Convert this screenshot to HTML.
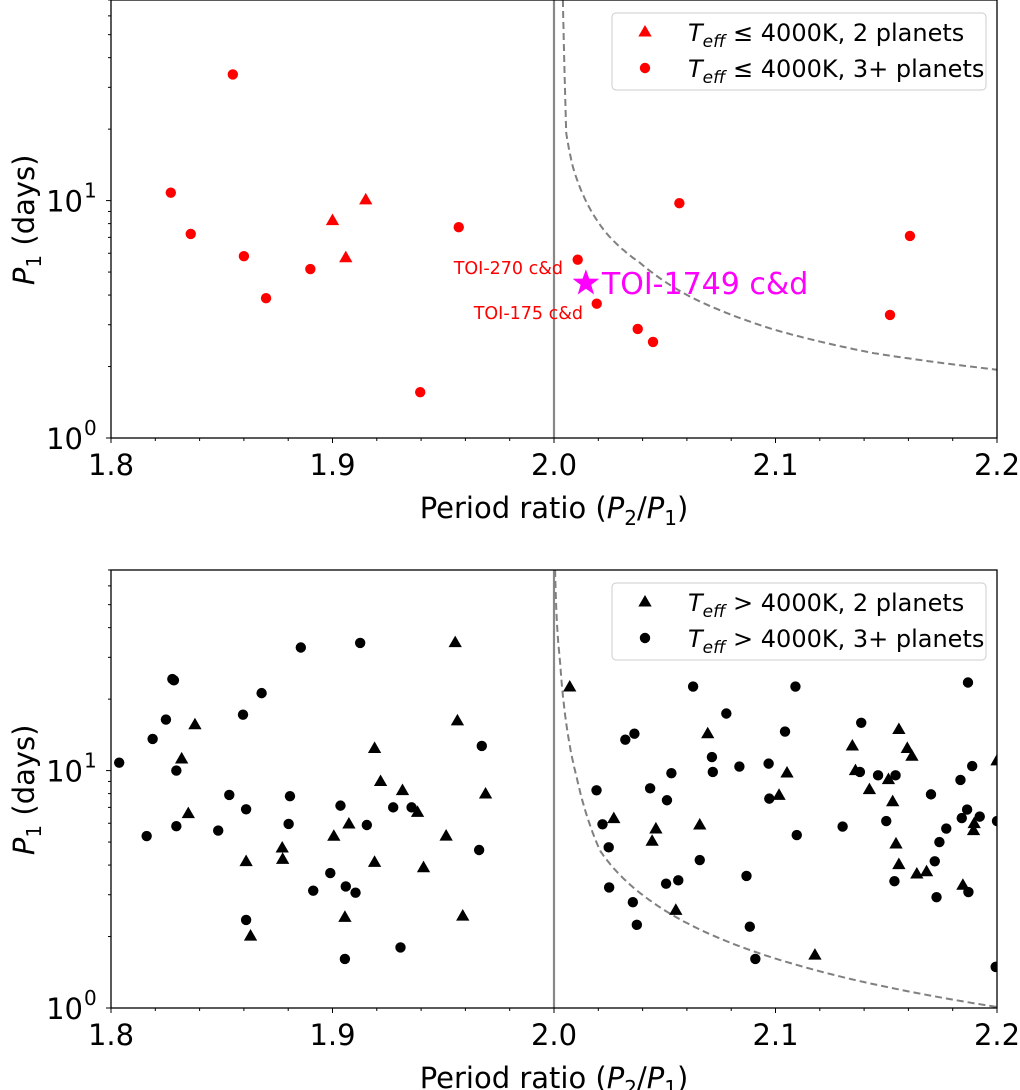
<!DOCTYPE html>
<html><head><meta charset="utf-8">
<style>
html,body{margin:0;padding:0;background:#fff;}
svg{display:block;font-family:"DejaVu Sans","Liberation Sans",sans-serif;}
</style></head>
<body>
<svg id="fig" width="1020" height="1090" viewBox="0 0 1020 1090" xmlns="http://www.w3.org/2000/svg"></svg>
<script>
// ---- Data: top panel (Teff <= 4000K) ----
const topTriRatio = [1.900, 1.915, 1.906];
const topTriP = [8.24, 10.07, 5.75];
const topCirRatio = [1.855, 1.827, 1.836, 1.860, 1.890, 1.870, 1.9396, 1.957, 2.0107, 2.0193, 2.0378, 2.0447, 2.0566, 2.1607, 2.1517];
const topCirP = [34.0, 10.8, 7.24, 5.83, 5.15, 3.88, 1.56, 7.73, 5.64, 3.68, 2.88, 2.54, 9.75, 7.1, 3.3];
const starRatio = [2.0144];
const starP = [4.49];
const topCurveRatio = [2.004, 2.0055, 2.0085, 2.0236, 2.0389, 2.0614, 2.1, 2.144, 2.2];
const topCurveP = [70, 19.3, 13.9, 7.3, 5.46, 3.94, 2.85, 2.28, 1.94];
// ---- Data: bottom panel (Teff > 4000K) ----
const botCirRatio = [1.8037,1.8188,1.8248,1.8277,1.8284,1.8295,1.8161,1.8295,1.8484,1.8534,1.8596,1.861,1.868,1.8857,1.8808,1.8802,1.861,1.8913,1.899,1.9036,1.906,1.9104,1.9056,1.9125,1.9155,1.9274,1.9357,1.9307,1.9674,1.9662,
 2.0628,2.1090,2.1869,2.0778,2.1387,2.0322,2.0363,2.1043,2.0713,2.0717,2.0837,2.0969,2.053,2.0434,2.051,2.0972,2.1381,2.1463,2.1542,2.1888,2.1835,2.0192,2.1702,2.1865,2.1841,2.1922,2.0219,2.15,2.1303,2.1771,2.1096,2.0247,2.174,2.0658,2.1719,2.0869,2.0506,2.0561,2.0249,2.1537,2.1727,2.1871,2.0356,2.0374,2.0884,2.0909,2.1994,2.2];
const botCirP = [10.8,13.6,16.4,24.3,24.0,10.0,5.3,5.83,5.59,7.9,17.2,6.87,21.2,33,7.8,5.96,2.35,3.12,3.7,7.12,3.25,3.06,1.61,34.5,5.9,7.0,7.0,1.8,12.7,4.63,
 22.6,22.6,23.5,17.4,15.9,13.5,14.3,14.6,11.4,9.87,10.4,10.7,9.75,8.42,7.5,7.62,9.87,9.55,9.55,10.45,9.13,8.26,7.94,6.85,6.31,6.4,5.94,6.13,5.81,5.7,5.35,4.75,5.0,4.2,4.15,3.6,3.34,3.45,3.22,3.42,2.93,3.08,2.79,2.24,2.2,1.61,1.49,6.13];
const botTriRatio = [1.8379,1.8319,1.8349,1.861,1.863,1.8773,1.8775,1.9006,1.9056,1.9074,1.919,1.9217,1.919,1.9316,1.9384,1.9411,1.9513,1.9554,1.9564,1.9588,1.9691,
 2.0071,2.0694,2.1557,2.1347,2.1595,2.1616,2.1052,2.1361,2.151,2.1424,2.1016,2.1529,2.027,2.0658,2.046,2.0443,2.1897,2.1894,2.1544,2.1557,2.1638,2.1682,2.1846,2.055,2.1178,2.2];
const botTriP = [15.6,11.2,6.59,4.14,2.01,4.72,4.23,5.29,2.41,5.96,12.4,9.0,4.11,8.24,6.67,3.9,5.3,34.6,16.2,2.44,7.97,
 22.5,14.3,14.9,12.7,12.4,11.5,9.77,10.0,9.17,8.32,7.87,7.4,6.28,5.9,5.68,5.04,5.98,5.59,4.91,4.02,3.67,3.75,3.29,2.58,1.67,11.0];
const botCurveRatio = [2.0005, 2.0027, 2.0102, 2.0208, 2.0433, 2.0734, 2.1185, 2.2];
const botCurveP = [70, 29, 9.4, 4.6, 2.84, 1.99, 1.44, 1.01];
const xTicks = [1.8, 1.9, 2.0, 2.1, 2.2];
const xTickLabels = ["1.8", "1.9", "2.0", "2.1", "2.2"];

const NS = "http://www.w3.org/2000/svg";
const svg = document.getElementById("fig");
function mk(tag, attrs, parent) {
  const e = document.createElementNS(NS, tag);
  for (const k in attrs) e.setAttribute(k, attrs[k]);
  (parent || svg).appendChild(e);
  return e;
}
const X0 = 111, X1 = 997, XMIN = 1.8, XMAX = 2.2;

function makePanel(top, name) {
  const bottom = top + 438;
  const decade = 237.4;
  const g = mk("g", {});
  
  
  const sx = r => X0 + (r - XMIN) / (XMAX - XMIN) * (X1 - X0);
  const sy = p => bottom - Math.log10(p) * decade;
  return {g, top, bottom, sx, sy, decade};
}

function drawAxes(P, prefix) {
  const g = P.g;
  for (let v = 0; v <= 20; v++) {
    const r = XMIN + v * 0.02;
    const x = P.sx(r);
    const major = v % 5 === 0;
    const t = mk("line", {x1: x, x2: x, y1: P.bottom, y2: P.bottom + (major ? 5 : 3), stroke: "#000", "stroke-width": 1}, g);
    
    
  }
  xTicks.forEach((r, i) => {
    const t = mk("text", {x: P.sx(r), y: P.bottom + 37, "text-anchor": "middle", "font-size": 29, fill: "#000"}, g);
    t.textContent = xTickLabels[i];
    
    
  });
  const yvals = [];
  for (let d = 0; d < 2; d++) for (let m = 1; m <= 9; m++) { const v = m * Math.pow(10, d); if (v <= 70) yvals.push(v); }
  yvals.forEach(v => {
    const y = P.sy(v);
    const major = (v === 1 || v === 10);
    const t = mk("line", {x1: X0, x2: X0 - (major ? 5 : 3), y1: y, y2: y, stroke: "#000", "stroke-width": 1}, g);
    
    
  });
  [[1, "0"], [10, "1"]].forEach(([v, e]) => {
    const t = mk("text", {x: 83, y: P.sy(v) + 11, "text-anchor": "end", "font-size": 29, fill: "#000"}, g);
    t.textContent = "10";
    
    
    const s = mk("text", {x: 84, y: P.sy(v) - 3, "font-size": 20, fill: "#000"}, g);
    s.textContent = e;
    
    
  });
  const xt = mk("text", {x: 554, y: P.bottom + 80, "text-anchor": "middle", "font-size": 29, fill: "#000"}, g);
  xt.innerHTML = 'Period ratio (<tspan font-style="italic">P</tspan><tspan font-size="20" dy="7">2</tspan><tspan dy="-7">/</tspan><tspan font-style="italic">P</tspan><tspan font-size="20" dy="7">1</tspan><tspan dy="-7">)</tspan>';
  
  
  const yt = mk("text", {x: 0, y: 0, "text-anchor": "middle", "font-size": 29, fill: "#000", transform: `translate(34,${P.sy(8.3)}) rotate(-90)`}, g);
  yt.innerHTML = '<tspan font-style="italic">P</tspan><tspan font-size="20" dy="7">1</tspan><tspan dy="-7"> (days)</tspan>';
  
  
}

function refLines(P, cr, cp, prefix) {
  const g = P.g;
  const v = mk("line", {x1: P.sx(2.0), x2: P.sx(2.0), y1: P.top, y2: P.bottom, stroke: "#888", "stroke-width": 2.2}, g);
  
  
  const lx = cr.map(r => Math.log(r - 2)), ly = cp.map(p => Math.log(p));
  let d = "";
  const N = 300;
  for (let k = 0; k <= N; k++) {
    const u = lx[0] + (lx[lx.length - 1] - lx[0]) * k / N;
    let j = 0;
    while (j < lx.length - 2 && u > lx[j + 1]) j++;
    const f = (u - lx[j]) / (lx[j + 1] - lx[j]);
    const lp = ly[j] + f * (ly[j + 1] - ly[j]);
    const r = 2 + Math.exp(u), p = Math.exp(lp);
    d += (k ? "L" : "M") + P.sx(r).toFixed(1) + "," + Math.max(P.top, P.sy(p)).toFixed(1);
  }
  const c = mk("path", {d, fill: "none", stroke: "#808080", "stroke-width": 2, "stroke-dasharray": "7,4"}, g);
  
  
}

function tri(g, x, y, s, col) {
  return mk("path", {d: `M${x},${y - s}L${x + s * 0.95},${y + s * 0.65}L${x - s * 0.95},${y + s * 0.65}Z`, fill: col}, g);
}

function points(P, cr, cp, tr, tp, col, prefix) {
  cr.forEach((r, i) => {
    const c = mk("circle", {cx: P.sx(r), cy: P.sy(cp[i]), r: 5.2, fill: col}, P.g);
    
    
  });
  tr.forEach((r, i) => {
    const t = tri(P.g, P.sx(r), P.sy(tp[i]), 7, col);
    
    
  });
}

function frame(P, prefix) {
  const f = mk("rect", {x: X0, y: P.top, width: X1 - X0, height: P.bottom - P.top, fill: "none", stroke: "#000", "stroke-width": 1.3}, P.g);
  
  
}

function legend(P, col, sym, prefix) {
  const g = mk("g", {}, P.g);
  
  
  const y0 = P.top + 13;
  mk("rect", {x: 612, y: y0, width: 374, height: 77, rx: 4, fill: "#fff", stroke: "#ccc", "stroke-width": 1}, g);
  const labels = [", 2 planets", ", 3+ planets"];
  [0, 1].forEach(i => {
    const y = y0 + 19 + i * 36;
    let m;
    if (i === 0) m = tri(g, 645, y, 7, col); else m = mk("circle", {cx: 645, cy: y, r: 5.2, fill: col}, g);
    
    
    const t = mk("text", {x: 688, y: y + 9, "font-size": 24, fill: "#000"}, g);
    t.innerHTML = `<tspan font-style="italic">T</tspan><tspan font-style="italic" font-size="17" dy="6">eff</tspan><tspan dy="-6">${sym}4000K${labels[i]}</tspan>`;
    
    
  });
}

// Top panel
const A = makePanel(0, "top-panel");
refLines(A, topCurveRatio, topCurveP, "top");
points(A, topCirRatio, topCirP, topTriRatio, topTriP, "#ff0000", "top");
starRatio.forEach((r, i) => {
  const x = A.sx(r), y = A.sy(starP[i]), R = 14, rr = 5.6;
  let d = "";
  for (let k = 0; k < 10; k++) {
    const a = -Math.PI / 2 + k * Math.PI / 5, rad = k % 2 ? rr : R;
    d += (k ? "L" : "M") + (x + rad * Math.cos(a)).toFixed(1) + "," + (y + rad * Math.sin(a)).toFixed(1);
  }
  const s = mk("path", {d: d + "Z", fill: "#ff00ff"}, A.g);
  
  
  const t = mk("text", {x: x + 16, y: y + 11, "font-size": 30, fill: "#ff00ff"}, A.g);
  t.textContent = "TOI-1749 c&d";
  
  
});
const l1 = mk("text", {x: 563, y: 274, "text-anchor": "end", "font-size": 17.5, fill: "#ff0000"}, A.g);
l1.textContent = "TOI-270 c&d";


const l2 = mk("text", {x: 583, y: 319, "text-anchor": "end", "font-size": 17.5, fill: "#ff0000"}, A.g);
l2.textContent = "TOI-175 c&d";


frame(A, "top");
drawAxes(A, "top");
legend(A, "#ff0000", " ≤ ", "top");

// Bottom panel
const B = makePanel(570, "bottom-panel");
refLines(B, botCurveRatio, botCurveP, "bottom");
const clip = mk("clipPath", {id: "clipB"}, svg);
mk("rect", {x: X0, y: B.top, width: X1 - X0, height: 438}, clip);
const pg = mk("g", {"clip-path": "url(#clipB)"}, B.g);


points({g: pg, sx: B.sx, sy: B.sy}, botCirRatio, botCirP, botTriRatio, botTriP, "#000000", "bottom");
frame(B, "bottom");
drawAxes(B, "bottom");
legend(B, "#000000", " &gt; ", "bottom");
</script>
</body></html>
